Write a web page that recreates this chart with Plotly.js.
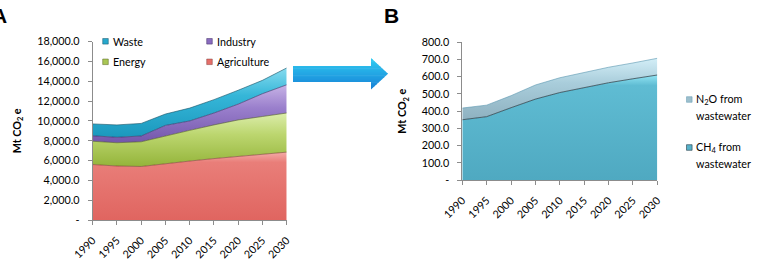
<!DOCTYPE html>
<html>
<head>
<meta charset="utf-8">
<script src="https://cdn.plot.ly/plotly-3.0.1.min.js"></script>
<style>
  html, body { margin: 0; padding: 0; background: #ffffff; }
  #chart { width: 766px; height: 270px; }
</style>
</head>
<body>
<div id="chart"></div>
<script>
// ---- data ----
const years = [1990, 1995, 2000, 2005, 2010, 2015, 2020, 2025, 2030];
const yearLabels = ['1990', '1995', '2000', '2005', '2010', '2015', '2020', '2025', '2030'];

// Panel A: sector emissions (Mt CO2e), stacked bottom to top
const agriculture = [5600, 5450, 5400, 5700, 5950, 6200, 6400, 6600, 6850];
const energy      = [2350, 2350, 2500, 2800, 3100, 3400, 3700, 3850, 3950];
const industry    = [550, 550, 580, 1050, 950, 1200, 1600, 2300, 2850];
const waste       = [1200, 1250, 1270, 1150, 1300, 1350, 1400, 1350, 1700];

// Panel B: wastewater emissions (Mt CO2e), stacked bottom to top
const ch4Wastewater = [350, 368, 420, 470, 508, 538, 565, 588, 610];
const n2oWastewater = [68, 67, 70, 82, 86, 88, 90, 92, 97];

const tickValsA = [0, 2000, 4000, 6000, 8000, 10000, 12000, 14000, 16000, 18000];
const tickTextA = ['-', '2,000.0', '4,000.0', '6,000.0', '8,000.0', '10,000.0', '12,000.0', '14,000.0', '16,000.0', '18,000.0'];
const tickValsB = [0, 100, 200, 300, 400, 500, 600, 700, 800];
const tickTextB = ['-', '100.0', '200.0', '300.0', '400.0', '500.0', '600.0', '700.0', '800.0'];

const namesA = ['Agriculture', 'Energy', 'Industry', 'Waste'];
const namesB = ['CH<sub>4</sub> from<br>wastewater', 'N<sub>2</sub>O from<br>wastewater'];
const yTitle = '<b>Mt CO<sub>2</sub> e</b>';

// ---- styling ----
const W = 766, H = 270;
const px = x => x / W;           // pixel -> paper (margins are zero)
const py = y => 1 - y / H;

const FONT = 'Lato, "Open Sans", sans-serif';
const FS = 10.75;
const AXIS_GREY = '#8c8c8c';

const paletteA = [
  { base: '#e56f6a', scale: [[0, '#e06560'], [0.85, '#e97e79'], [1, '#f4aba7']], edge: 'rgba(120,50,45,0.55)' },
  { base: '#a9c654', scale: [[0, '#94b43a'], [0.6, '#bcd66f'], [1, '#dcedab']], edge: 'rgba(80,95,30,0.6)' },
  { base: '#8a6cbf', scale: [[0, '#7356ab'], [0.6, '#9a7fcc'], [1, '#c7b3e6']], edge: 'rgba(60,40,95,0.6)' },
  { base: '#27a8cc', scale: [[0, '#1b98bd'], [0.6, '#35b6d8'], [1, '#86dbef']], edge: 'rgba(20,80,100,0.6)' }
];
const paletteB = [
  { base: '#57b2ca', scale: [[0, '#4fa9c1'], [0.9, '#5fbcd3'], [1, '#92e4f3']], edge: 'rgba(40,60,70,0.75)' },
  { base: '#9dbfcd', scale: [[0, '#8eb1c0'], [0.6, '#a9cddb'], [1, '#d3eef7']], edge: 'rgba(90,150,175,0.6)' }
];

function areaTrace(y, name, pal, xa, ya, group) {
  return {
    type: 'scatter', mode: 'lines',
    x: years, y: y, name: name,
    xaxis: xa, yaxis: ya,
    stackgroup: group,
    line: { width: 1, color: pal.edge, shape: 'linear' },
    fillcolor: pal.base,
    fillgradient: { type: 'vertical', colorscale: pal.scale },
    showlegend: false,
    hoverinfo: 'skip'
  };
}

const seriesA = [agriculture, energy, industry, waste];
const seriesB = [ch4Wastewater, n2oWastewater];
const traces = [];
seriesA.forEach((s, i) => traces.push(areaTrace(s, namesA[i], paletteA[i], 'x', 'y', 'A')));
seriesB.forEach((s, i) => traces.push(areaTrace(s, namesB[i], paletteB[i], 'x2', 'y2', 'B')));

// plot-area boxes in pixels
const boxA = { l: 92.7, r: 286.7, t: 41.7, b: 220 };
const boxB = { l: 462.3, r: 657.3, t: 42.3, b: 180 };

function xAxis(box) {
  return {
    domain: [px(box.l), px(box.r)],
    range: [1990, 2030], type: 'linear',
    tickvals: years, ticktext: yearLabels, tickangle: -45,
    ticks: 'outside', ticklen: 4, tickwidth: 1, tickcolor: AXIS_GREY,
    ticklabelstandoff: 5,
    showline: true, linecolor: AXIS_GREY, linewidth: 1,
    showgrid: false, zeroline: false,
    tickfont: { family: FONT, size: FS, color: '#000' },
    fixedrange: true
  };
}
function yAxis(box, range, vals, text) {
  return {
    domain: [py(box.b), py(box.t)],
    range: range,
    tickvals: vals, ticktext: text,
    ticks: 'outside', ticklen: 4, tickwidth: 1, tickcolor: AXIS_GREY,
    ticklabelstandoff: 6,
    showline: true, linecolor: AXIS_GREY, linewidth: 1,
    showgrid: false, zeroline: false,
    tickfont: { family: FONT, size: FS, color: '#000' },
    fixedrange: true
  };
}

const annotations = [];
const shapes = [];

function text(x, y, str, opts) {
  annotations.push(Object.assign({
    xref: 'paper', yref: 'paper', x: px(x), y: py(y), text: str,
    showarrow: false, xanchor: 'left', yanchor: 'middle', borderpad: 0,
    font: { family: FONT, size: FS, color: '#000' }
  }, opts || {}));
}
function legendSwatch(x, yc, pal) {
  shapes.push({
    type: 'rect', xref: 'paper', yref: 'paper',
    x0: px(x), x1: px(x + 5.6), y0: py(yc + 2.8), y1: py(yc - 2.8),
    fillcolor: pal.base, line: { color: pal.edge, width: 0.8 }
  });
}

// panel letters
text(7.5, 15, '<b>A</b>', { xanchor: 'right', font: { family: 'Liberation Sans, Arial, sans-serif', size: 21, color: '#000' } });
text(383, 15, '<b>B</b>', { font: { family: 'Liberation Sans, Arial, sans-serif', size: 21, color: '#000' } });

// y axis titles
text(17.5, (boxA.t + boxA.b) / 2, yTitle, { xanchor: 'center', textangle: -90 });
text(402.5, (boxB.t + boxB.b) / 2, yTitle, { xanchor: 'center', textangle: -90 });

// panel A legend: two rows, two columns (Waste, Industry / Energy, Agriculture)
const legendOrderA = [3, 2, 1, 0];
legendOrderA.forEach((idx, k) => {
  const col = k % 2, row = Math.floor(k / 2);
  const x = 102.7 + col * 104, y = 41.3 + row * 20.5;
  legendSwatch(x, y, paletteA[idx]);
  text(x + 9.5, y, namesA[idx]);
});

// panel B legend: N2O above CH4, labels on two lines
const legendOrderB = [1, 0];
legendOrderB.forEach((idx, k) => {
  const y = 99.5 + k * 48;
  legendSwatch(686.5, y, paletteB[idx]);
  namesB[idx].split('<br>').forEach((line, j) => text(695, y + j * 16, line));
});

// connecting arrow, drawn as horizontal strips for a vertical colour gradient
(function drawArrow() {
  const xl = 293, xb = 371, xt = 388, st = 66, sb = 82, ht = 58, hb = 89.5, yc = 73.75;
  const outline = [[xl, st], [xb, st], [xb, ht], [xt, yc], [xb, hb], [xb, sb], [xl, sb]];
  function clip(poly, yLim, keepBelow) {
    const out = [];
    for (let i = 0; i < poly.length; i++) {
      const a = poly[i], b = poly[(i + 1) % poly.length];
      const ina = keepBelow ? a[1] >= yLim : a[1] <= yLim;
      const inb = keepBelow ? b[1] >= yLim : b[1] <= yLim;
      if (ina) out.push(a);
      if (ina !== inb) {
        const t = (yLim - a[1]) / (b[1] - a[1]);
        out.push([a[0] + t * (b[0] - a[0]), yLim]);
      }
    }
    return out;
  }
  const top = [48, 206, 242], bot = [22, 128, 214];
  const n = 18;
  for (let i = 0; i < n; i++) {
    const y0 = ht + (hb - ht) * i / n, y1 = ht + (hb - ht) * (i + 1) / n;
    let poly = clip(outline, y0 - 0.3, true);
    poly = clip(poly, y1 + 0.3, false);
    if (poly.length < 3) continue;
    const t = (i + 0.5) / n;
    const c = top.map((v, k) => Math.round(v + (bot[k] - v) * t));
    const path = 'M' + poly.map(p => px(p[0]).toFixed(5) + ',' + py(p[1]).toFixed(5)).join('L') + 'Z';
    shapes.push({
      type: 'path', xref: 'paper', yref: 'paper', path: path,
      fillcolor: 'rgb(' + c.join(',') + ')', line: { width: 0 }
    });
  }
})();

const layout = {
  width: W, height: H,
  margin: { l: 0, r: 0, t: 0, b: 0, pad: 0 },
  paper_bgcolor: '#ffffff', plot_bgcolor: 'rgba(0,0,0,0)',
  showlegend: false,
  xaxis: xAxis(boxA),
  yaxis: yAxis(boxA, [0, 18000], tickValsA, tickTextA),
  xaxis2: Object.assign(xAxis(boxB), { anchor: 'y2' }),
  yaxis2: Object.assign(yAxis(boxB, [0, 800], tickValsB, tickTextB), { anchor: 'x2' }),
  annotations: annotations,
  shapes: shapes,
  font: { family: FONT, size: FS, color: '#000' }
};
layout.xaxis.anchor = 'y';
layout.yaxis.anchor = 'x';

Plotly.newPlot('chart', traces, layout, { staticPlot: true, displayModeBar: false });
</script>
</body>
</html>
